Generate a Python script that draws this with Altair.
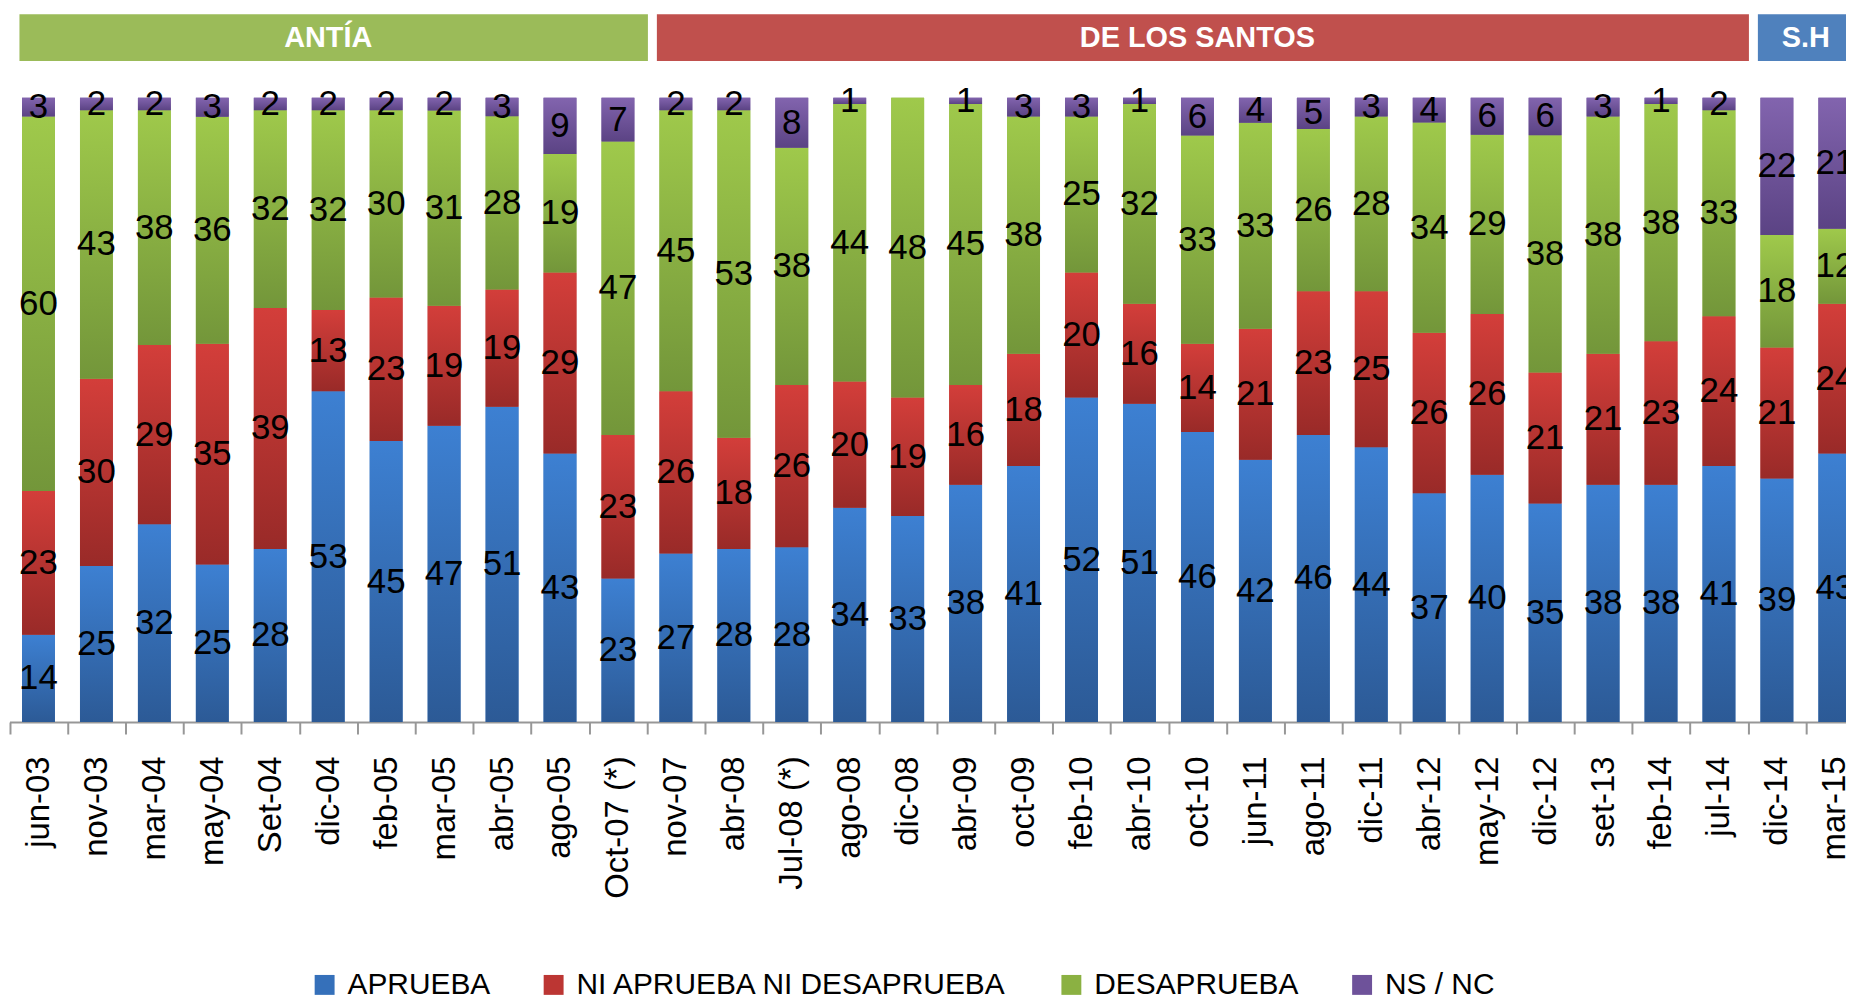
import altair as alt
import pandas as pd

# ---------------- data ----------------
cats = ["jun-03", "nov-03", "mar-04", "may-04", "Set-04", "dic-04", "feb-05", "mar-05",
        "abr-05", "ago-05", "Oct-07 (*)", "nov-07", "abr-08", "Jul-08 (*)", "ago-08",
        "dic-08", "abr-09", "oct-09", "feb-10", "abr-10", "oct-10", "jun-11", "ago-11",
        "dic-11", "abr-12", "may-12", "dic-12", "set-13", "feb-14", "jul-14", "dic-14",
        "mar-15"]

series = ["APRUEBA", "NI APRUEBA NI DESAPRUEBA", "DESAPRUEBA", "NS / NC"]

aprueba = [14, 25, 32, 25, 28, 53, 45, 47, 51, 43, 23, 27, 28, 28, 34, 33, 38, 41, 52, 51,
           46, 42, 46, 44, 37, 40, 35, 38, 38, 41, 39, 43]
ni_ni = [23, 30, 29, 35, 39, 13, 23, 19, 19, 29, 23, 26, 18, 26, 20, 19, 16, 18, 20, 16,
         14, 21, 23, 25, 26, 26, 21, 21, 23, 24, 21, 24]
desaprueba = [60, 43, 38, 36, 32, 32, 30, 31, 28, 19, 47, 45, 53, 38, 44, 48, 45, 38, 25, 32,
              33, 33, 26, 28, 34, 29, 38, 38, 38, 33, 18, 12]
ns_nc = [3, 2, 2, 3, 2, 2, 2, 2, 3, 9, 7, 2, 2, 8, 1, 0, 1, 3, 3, 1,
         6, 4, 5, 3, 4, 6, 6, 3, 1, 2, 22, 21]

banner_names = ["ANTÍA", "DE LOS SANTOS", "S.H"]
banner_first = ["jun-03", "nov-07", "dic-14"]
banner_last = ["Oct-07 (*)", "jul-14", "mar-15"]
banner_colors = ["#9BBB59", "#C0504D", "#4F81BD"]

# ---------------- styles ----------------
solid_colors = ["#3570BA", "#BC3633", "#8BB142", "#6E529A"]
grad_stops = [("#3D80D2", "#2C5A96"), ("#D33E3A", "#992A28"),
              ("#9FC94B", "#73963A"), ("#8264AE", "#5B4384")]
FONT = "Liberation Sans, Arial, sans-serif"

rows = []
for i, c in enumerate(cats):
    for j, vals in enumerate([aprueba, ni_ni, desaprueba, ns_nc]):
        rows.append({"cat": c, "series": series[j], "order": j, "value": vals[i]})
df = pd.DataFrame(rows)

banners = pd.DataFrame({"name": banner_names, "first": banner_first,
                        "last": banner_last, "bcolor": banner_colors})

step = 58.2
x_scale = alt.Scale(domain=cats, range=[1.5, 1.5 + len(cats) * step],
                    paddingInner=0, paddingOuter=0)
y_scale = alt.Scale(domain=[0, 1], range=[715, 88])

x_axis = alt.Axis(
    title=None, tickBand="extent", tickSize=12, tickColor="#979797", tickWidth=2,
    domainColor="#979797", domainWidth=2, labelAngle=270, labelAlign="right",
    labelBaseline="middle", labelFont=FONT, labelFontSize=33, labelColor="black",
    labelPadding=22, labelOverlap=False, labelBound=False, labelFlush=False, grid=False,
)
x_enc = alt.X("cat:N", scale=x_scale, axis=x_axis)


def grad(top, bottom):
    return {"gradient": "linear", "x1": 0, "y1": 0, "x2": 0, "y2": 1,
            "stops": [{"offset": 0, "color": top}, {"offset": 1, "color": bottom}]}


base = alt.Chart(df).transform_stack(
    stack="value", groupby=["cat"], as_=["y0", "y1"], offset="normalize",
    sort=[alt.SortField("order", order="ascending")],
)

solid = base.mark_bar(size=33).encode(
    x=x_enc,
    y=alt.Y("y0:Q", scale=y_scale, axis=None),
    y2="y1:Q",
    color=alt.Color(
        "series:N",
        scale=alt.Scale(domain=series, range=solid_colors),
        legend=alt.Legend(
            orient="none", legendX=303, legendY=964, direction="horizontal",
            title=None, symbolType="square", symbolSize=400, symbolStrokeWidth=0,
            labelFont=FONT, labelFontSize=30, labelColor="black", labelOffset=8,
            columnPadding=48, labelLimit=0,
        ),
    ),
)

fill_enc = {
    "condition": [
        {"test": f"datum.series === '{series[k]}'", "value": grad(*grad_stops[k])}
        for k in range(3)
    ],
    "value": grad(*grad_stops[3]),
}

shaded = base.mark_bar(size=33).encode(
    x=x_enc,
    y=alt.Y("y0:Q", scale=y_scale, axis=None),
    y2="y1:Q",
    fill=fill_enc,
)

labels = base.transform_filter("datum.value > 0").transform_calculate(
    mid="(datum.y0 + datum.y1) / 2"
).mark_text(font=FONT, fontSize=35, color="black", align="center",
            baseline="middle").encode(
    x=x_enc,
    y=alt.Y("mid:Q", scale=y_scale, axis=None),
    text="value:Q",
)

banner_rect = alt.Chart(banners).mark_rect(xOffset=10, x2Offset=1).encode(
    x=alt.X("first:N", scale=x_scale, axis=x_axis, bandPosition=0),
    x2=alt.X2("last:N", bandPosition=1),
    y=alt.value(4),
    y2=alt.value(51),
    color=alt.Color("bcolor:N", scale=None),
)

banner_text = alt.Chart(banners).mark_text(
    font=FONT, fontSize=29, fontWeight="bold", color="white",
    align="center", baseline="middle",
).encode(
    x=alt.value({"expr": "(scale('x', datum.first) + scale('x', datum.last) + bandwidth('x')) / 2"}),
    y=alt.value(28),
    text="name:N",
)

chart = alt.layer(solid, shaded, labels, banner_rect, banner_text).properties(
    width=1846, height=715,
    autosize=alt.AutoSizeParams(type="none"),
    padding={"left": 0, "top": 0, "right": 0, "bottom": 277},
    background="white",
).configure_view(stroke=None)

chart.save("out.html", embed_options={"renderer": "svg", "actions": False})
